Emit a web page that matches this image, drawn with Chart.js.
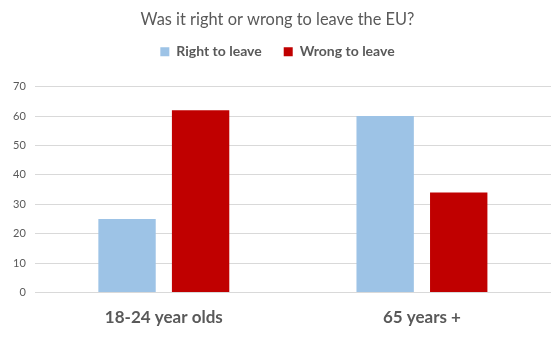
<!DOCTYPE html>
<html>
<head>
<meta charset="utf-8">
<title>Was it right or wrong to leave the EU?</title>
<script src="https://cdn.jsdelivr.net/npm/chart.js@4.4.1/dist/chart.umd.min.js"></script>
<style>
  html, body { margin: 0; padding: 0; background: #fff; }
  #wrap { width: 559px; height: 338px; }
</style>
</head>
<body>
<div id="wrap"><canvas id="chart" width="559" height="338"></canvas></div>
<script>
// age groups on the x axis
const ageGroups = ["18-24 year olds", "65 years +"];
// share of people (%) saying it was right / wrong to leave
const rightToLeave = [25, 60];
const wrongToLeave = [62, 34];
const yTicks = [0, 10, 20, 30, 40, 50, 60, 70];

const textColor = "#595959";
const fontFamily = "Lato, 'Open Sans', sans-serif";

// extra room between the legend and the plot area
const legendGap = {
  id: "legendGap",
  beforeInit(chart) {
    const fit = chart.legend.fit;
    chart.legend.fit = function () {
      fit.call(this);
      this.height += 18;
    };
  },
};

new Chart(document.getElementById("chart"), {
  type: "bar",
  data: {
    labels: ageGroups,
    datasets: [
      {
        label: "Right to leave",
        data: rightToLeave,
        backgroundColor: "#9DC3E6",
      },
      {
        label: "Wrong to leave",
        data: wrongToLeave,
        backgroundColor: "#C00000",
      },
    ],
  },
  plugins: [legendGap],
  options: {
    responsive: false,
    animation: false,
    devicePixelRatio: 1,
    layout: { padding: { left: 4, right: 8, top: 0, bottom: -5 } },
    datasets: {
      bar: { categoryPercentage: 0.57, barPercentage: 0.78 },
    },
    plugins: {
      title: {
        display: true,
        text: "Was it right or wrong to leave the EU?",
        color: textColor,
        font: { family: fontFamily, size: 16.4, weight: "normal" },
        padding: { top: 10, bottom: -7 },
      },
      legend: {
        display: true,
        position: "top",
        labels: {
          color: textColor,
          font: { family: fontFamily, size: 14, weight: "bold" },
          boxWidth: 9,
          boxHeight: 9,
          padding: 22,
        },
      },
      tooltip: { enabled: false },
    },
    scales: {
      x: {
        grid: { display: false, drawTicks: false },
        border: { display: false },
        ticks: {
          color: textColor,
          padding: 15,
          font: { family: fontFamily, size: 17, weight: "bold" },
        },
      },
      y: {
        min: 0,
        max: 70,
        afterBuildTicks: (axis) => {
          axis.ticks = yTicks.map((v) => ({ value: v }));
        },
        grid: { color: "#D9D9D9", lineWidth: 1, drawTicks: false },
        border: { display: false },
        ticks: {
          color: textColor,
          padding: 9,
          font: { family: fontFamily, size: 11 },
        },
      },
    },
  },
});
</script>
</body>
</html>
